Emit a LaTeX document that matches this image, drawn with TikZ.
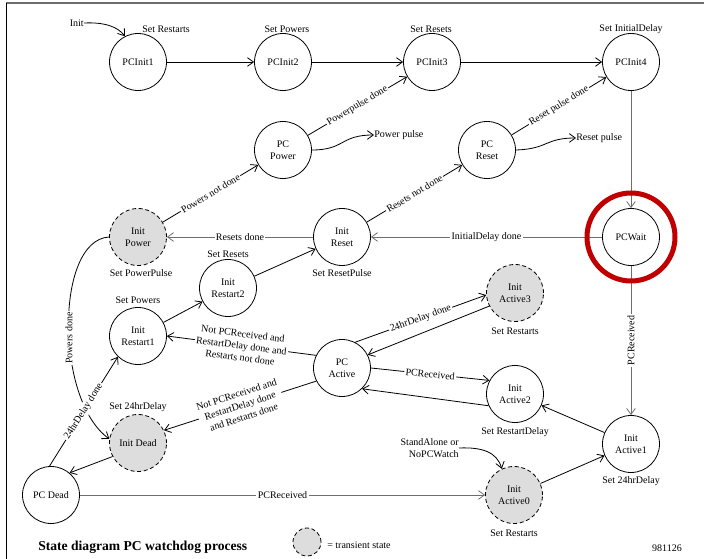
\documentclass[tikz,border=0pt]{standalone}
\usepackage{fontspec}
\setmainfont{Liberation Serif}
\usetikzlibrary{arrows.meta}
\newcommand\labfont{\fontsize{7.5}{9}\selectfont}
\definecolor{ringred}{RGB}{192,0,0}
\definecolor{tgray}{RGB}{221,221,221}
\definecolor{lgray}{RGB}{110,110,110}
\begin{document}
\begin{tikzpicture}[x=0.75pt,y=-0.75pt,
 state/.style={circle,draw,line width=0.6pt,minimum size=42.75pt,inner sep=0pt,align=center,font=\labfont},
 trans/.style={state,fill=tgray,dash pattern=on 3pt off 2pt},
 txt/.style={inner sep=0pt,font=\labfont,align=center},
 tr/.style={line width=0.6pt,-{Straight Barb[length=4.5pt,width=6.5pt]}},
 gtr/.style={tr,draw=lgray},
 elabb/.style={fill=white,inner sep=1pt,font=\labfont,align=center},
 elab/.style={elabb,sloped},
]
\useasboundingbox (0,0) rectangle (704,559);
\draw[lgray,line width=1.2pt] (6,3) -- (704,3);
\draw[line width=0.75pt] (6,3) -- (6,559);

% states
\node[state] (pci1) at (138,62) {PCInit1};
\node[state] (pci2) at (283,62) {PCInit2};
\node[state] (pci3) at (432,62) {PCInit3};
\node[state] (pci4) at (631,62) {PCInit4};
\node[state] (ppow) at (283,150) {PC\\Power};
\node[state] (pres) at (487,150) {PC\\Reset};
\node[trans] (ipow) at (138,237) {Init\\Power};
\node[state] (ires) at (342,237) {Init\\Reset};
\node[state] (wait) at (631,237) {PCWait};
\node[state] (irs2) at (228,288) {Init\\Restart2};
\node[state] (irs1) at (138,336) {Init\\Restart1};
\node[trans] (iac3) at (515,293) {Init\\Active3};
\node[state] (pact) at (342,368) {PC\\Active};
\node[state] (iac2) at (515,394) {Init\\Active2};
\node[trans] (idead) at (138,443) {Init Dead};
\node[state] (iac1) at (631,444) {Init\\Active1};
\node[state] (pdead) at (51,495) {PC Dead};
\node[trans] (iac0) at (514,495) {Init\\Active0};

% actions
\node[txt] (s1) at (166,29) {Set Restarts};
\node[txt] (s2) at (287,29) {Set Powers};
\node[txt] (s3) at (431,29) {Set Resets};
\node[txt] (s4) at (631,29) {Set InitialDelay};
\node[txt] (s5) at (141,273) {Set PowerPulse};
\node[txt] (s6) at (342,273) {Set ResetPulse};
\node[txt] (s7) at (228,254) {Set Resets};
\node[txt] (s8) at (138,300) {Set Powers};
\node[txt] (s9) at (138,407) {Set 24hrDelay};
\node[txt] (s10) at (515,331) {Set Restarts};
\node[txt] (s11) at (515,432) {Set RestartDelay};
\node[txt] (s12) at (631,481) {Set 24hrDelay};
\node[txt] (s13) at (514,533) {Set Restarts};

% free texts
\node[txt,anchor=east] (init) at (84,23) {Init};
\node[txt,anchor=west] (ppulse) at (374,135) {Power pulse};
\node[txt,anchor=west] (rpulse) at (576,138) {Reset pulse};
\node[txt,align=right,anchor=east] (sa) at (459,448) {StandAlone or\\NoPCWatch};
\node[anchor=west,inner sep=0pt,font=\fontsize{10.2}{12}\selectfont\bfseries] (title) at (38,547) {State diagram PC watchdog process};
\node[trans,minimum size=21pt] (leg) at (307,542) {};
\node[txt,anchor=west] (legt) at (327,545) {= transient state};
\node[txt] (num) at (667,548) {981126};

% transitions
\draw[tr] (init.east) .. controls (105,22) and (118,27) .. (pci1.117);
\draw[tr] (pci1) -- (pci2);
\draw[tr] (pci2) -- (pci3);
\draw[tr] (pci3) -- (pci4);
\draw[tr] (ppow) -- node[elab]{Powerpulse done} (pci3);
\draw[tr] (ppow.east) .. controls (345,150) and (340,135) .. (ppulse.west);
\draw[tr] (pres) -- node[elab]{Reset pulse done} (pci4);
\draw[tr] (pres.east) .. controls (548,149) and (545,138) .. (rpulse.west);
\draw[gtr] (pci4) -- (wait);
\draw[gtr] (wait) -- node[elab]{InitialDelay done} (ires);
\draw[gtr] (ires) -- node[elab]{Resets done} (ipow);
\draw[tr] (ipow) -- node[elab]{Powers not done} (ppow);
\draw[tr] (ires) -- node[elab]{Resets not done} (pres);
\draw[tr] (irs1) -- (irs2);
\draw[tr] (irs2) -- (ires);
\draw[tr] (ipow.west) .. controls (55,240) and (55,400) .. node[pos=0.55,elabb,rotate=90]{Powers done} (idead.172);
\draw[tr] (pdead.93) -- node[elab]{24hrDelay done} (irs1.226);
\draw[tr] (idead.208) -- (pdead.50);
\draw[gtr] (pdead.east) -- node[elab]{PCReceived} (iac0.west);
\draw[tr] (sa.east) .. controls (482,447) and (497,452) .. (iac0.115);
\draw[tr] (iac0) -- (iac1);
\draw[gtr] (wait) -- node[elabb,rotate=90]{PCReceived} (iac1);
\draw[tr] (iac1) -- (iac2);
\draw[tr] (pact.0) -- node[elab]{PCReceived} (iac2.152);
\draw[tr] (iac2.204) -- (pact.314);
\draw[tr] (pact.63) -- node[elab]{24hrDelay done} (iac3.184);
\draw[tr] (iac3.207) -- (pact.27);
\draw[tr] (pact.154) -- node[elab]{Not PCReceived and\\RestartDelay done and\\Restarts not done} (irs1.0);
\draw[tr] (pact.207) -- node[elab]{Not PCReceived and\\RestartDelay done\\and Restarts done} (idead.26);

% highlight ring
\draw[ringred,line width=3.75pt] (wait) circle[radius=44];
\end{tikzpicture}
\end{document}
